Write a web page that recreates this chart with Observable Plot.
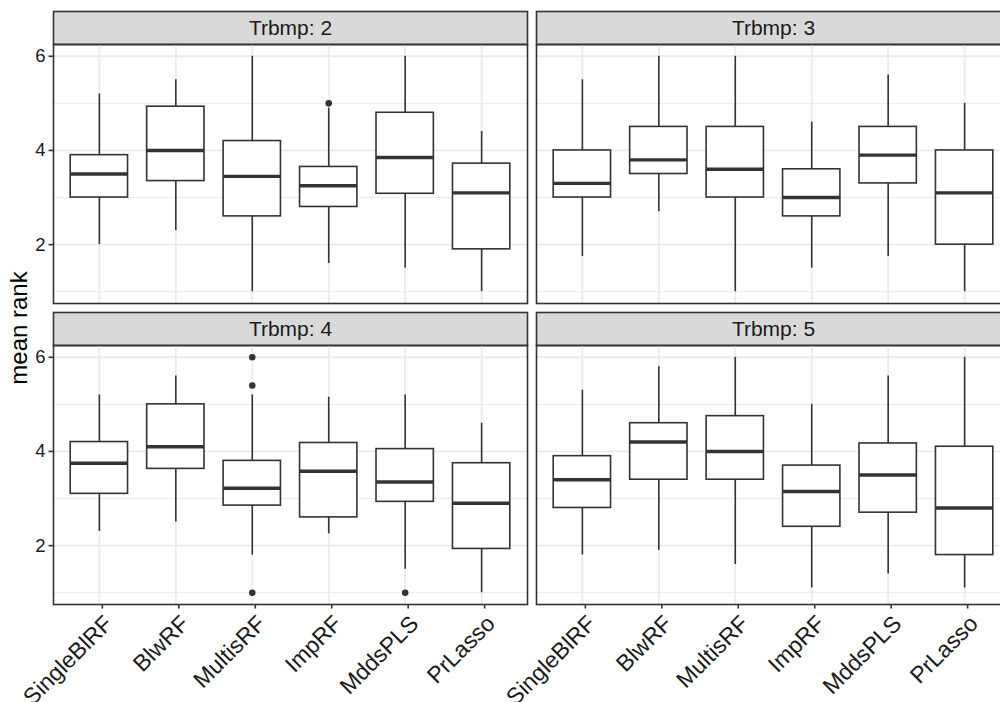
<!DOCTYPE html>
<html>
<head>
<meta charset="utf-8">
<script src="https://cdn.jsdelivr.net/npm/d3@7"></script>
<script src="https://cdn.jsdelivr.net/npm/@observablehq/plot@0.6"></script>
<style>
  html, body { margin: 0; padding: 0; background: #fff; overflow: hidden; }
  #chart { position: relative; width: 1000px; height: 702px; overflow: hidden; }
  #chart svg { position: absolute; left: 0; top: 0; max-width: none; }
  #ylab {
    position: absolute; left: 19px; top: 328px; z-index: 2;
    transform: translate(-50%, -50%) rotate(-90deg);
    font: 24px "Liberation Sans", Arial, sans-serif; color: #000; white-space: nowrap;
  }
</style>
</head>
<body>
<div id="chart"><div id="ylab">mean rank</div></div>
<script>
// Methods compared, in axis order
const methods = ["SingleBlRF", "BlwRF", "MultisRF", "ImpRF", "MddsPLS", "PrLasso"];
// Facet values of Trbmp
const panels = ["2", "3", "4", "5"];

// Box-plot statistics per panel (rows) and method (columns)
const lower = [
  [2.0, 2.3, 1.0, 1.6, 1.5, 1.0],
  [1.75, 2.7, 1.0, 1.5, 1.75, 1.0],
  [2.3, 2.5, 1.8, 2.25, 1.5, 1.0],
  [1.8, 1.9, 1.6, 1.1, 1.4, 1.1]
];
const q1 = [
  [3.0, 3.35, 2.6, 2.8, 3.08, 1.9],
  [3.0, 3.5, 3.0, 2.6, 3.3, 2.0],
  [3.1, 3.63, 2.85, 2.6, 2.93, 1.93],
  [2.8, 3.4, 3.4, 2.4, 2.7, 1.8]
];
const median = [
  [3.5, 4.0, 3.45, 3.25, 3.85, 3.1],
  [3.3, 3.8, 3.6, 3.0, 3.9, 3.1],
  [3.75, 4.1, 3.22, 3.58, 3.35, 2.9],
  [3.4, 4.2, 4.0, 3.15, 3.5, 2.8]
];
const q3 = [
  [3.9, 4.93, 4.2, 3.65, 4.8, 3.72],
  [4.0, 4.5, 4.5, 3.6, 4.5, 4.0],
  [4.2, 5.0, 3.8, 4.18, 4.05, 3.75],
  [3.9, 4.6, 4.75, 3.7, 4.17, 4.1]
];
const upper = [
  [5.2, 5.5, 6.0, 4.9, 6.0, 4.4],
  [5.5, 6.0, 6.0, 4.6, 5.6, 5.0],
  [5.2, 5.6, 5.2, 5.15, 5.2, 4.6],
  [5.3, 5.8, 6.0, 5.0, 5.6, 6.0]
];

// Outlying points
const outlierPanel = ["2", "4", "4", "4", "4"];
const outlierMethod = ["ImpRF", "MultisRF", "MultisRF", "MultisRF", "MddsPLS"];
const outlierValue = [5.0, 6.0, 5.4, 1.0, 1.0];

// Axis ticks
const yMajor = [2, 4, 6];
const yMinor = [1, 3, 5];

// Facet grid: two columns, two rows
const colOf = p => panels.indexOf(p) % 2;
const rowOf = p => Math.floor(panels.indexOf(p) / 2);

const rows = panels.flatMap((p, i) => methods.map((m, j) => ({
  col: colOf(p), row: rowOf(p), method: m,
  lo: lower[i][j], q1: q1[i][j], med: median[i][j], q3: q3[i][j], hi: upper[i][j]
})));
const outliers = outlierValue.map((v, k) => ({
  col: colOf(outlierPanel[k]), row: rowOf(outlierPanel[k]), method: outlierMethod[k], value: v
}));
const strips = panels.map(p => ({col: colOf(p), row: rowOf(p), label: "Trbmp: " + p}));

// Layout
const M = {top: 44, right: 5, bottom: 98, left: 53};
const panelW = 474, panelH = 259, gapX = 9, gapY = 42, stripH = 33;
const width = M.left + 2 * panelW + gapX + M.right;
const height = 702;
const ink = "#333333";
const gridColor = "#ebebeb";
const lw = 1.6;
const facet = {fx: "col", fy: "row"};

const chart = Plot.plot({
  width, height,
  marginTop: M.top, marginRight: M.right, marginBottom: M.bottom, marginLeft: M.left,
  style: {fontFamily: "'Liberation Sans', Arial, sans-serif", fontSize: "20px", background: "white", color: "#1a1a1a", maxWidth: "none"},
  fx: {axis: null, domain: [0, 1], paddingInner: gapX / (panelW + gapX), paddingOuter: 0, round: false},
  fy: {axis: null, domain: [0, 1], paddingInner: gapY / (panelH + gapY), paddingOuter: 0, round: false},
  x: {domain: methods, paddingInner: 0.25, paddingOuter: 0.225, round: false, label: null},
  y: {domain: [0.75, 6.25], label: null},
  marks: [
    // strip backgrounds above every panel
    Plot.frame({fill: "#d9d9d9", stroke: ink, strokeWidth: lw, insetTop: -stripH, insetBottom: panelH}),
    Plot.text(strips, {...facet, text: "label", frameAnchor: "top", lineAnchor: "middle", dy: -stripH / 2, fontSize: 21, fill: "#1a1a1a"}),
    // grid
    Plot.gridY(yMinor, {stroke: gridColor, strokeOpacity: 1, strokeWidth: 1}),
    Plot.gridY(yMajor, {stroke: gridColor, strokeOpacity: 1, strokeWidth: 1.8}),
    Plot.gridX({stroke: gridColor, strokeOpacity: 1, strokeWidth: 1.8}),
    // axes
    Plot.axisY(yMajor, {tickSize: 4.5, tickPadding: 3.5, fontSize: 18.5, fill: "#1a1a1a", stroke: ink, strokeWidth: lw, label: null}),
    Plot.axisX({tickRotate: -45, textAnchor: "end", lineAnchor: "top", dx: 3, tickSize: 4.5, tickPadding: 4.5, fontSize: 23, fill: "#1a1a1a", stroke: ink, strokeWidth: lw, label: null}),
    // box plots
    Plot.ruleX(rows, {...facet, x: "method", y1: "lo", y2: "hi", stroke: ink, strokeWidth: lw}),
    Plot.barY(rows, {...facet, x: "method", y1: "q1", y2: "q3", fill: "white", stroke: ink, strokeWidth: lw}),
    Plot.tickY(rows, {...facet, x: "method", y: "med", stroke: ink, strokeWidth: 3.4}),
    Plot.dot(outliers, {...facet, x: "method", y: "value", r: 3.3, fill: ink, stroke: "none"}),
    // panel borders
    Plot.frame({stroke: ink, strokeWidth: lw})
  ]
});

document.getElementById("chart").appendChild(chart);
</script>
</body>
</html>
